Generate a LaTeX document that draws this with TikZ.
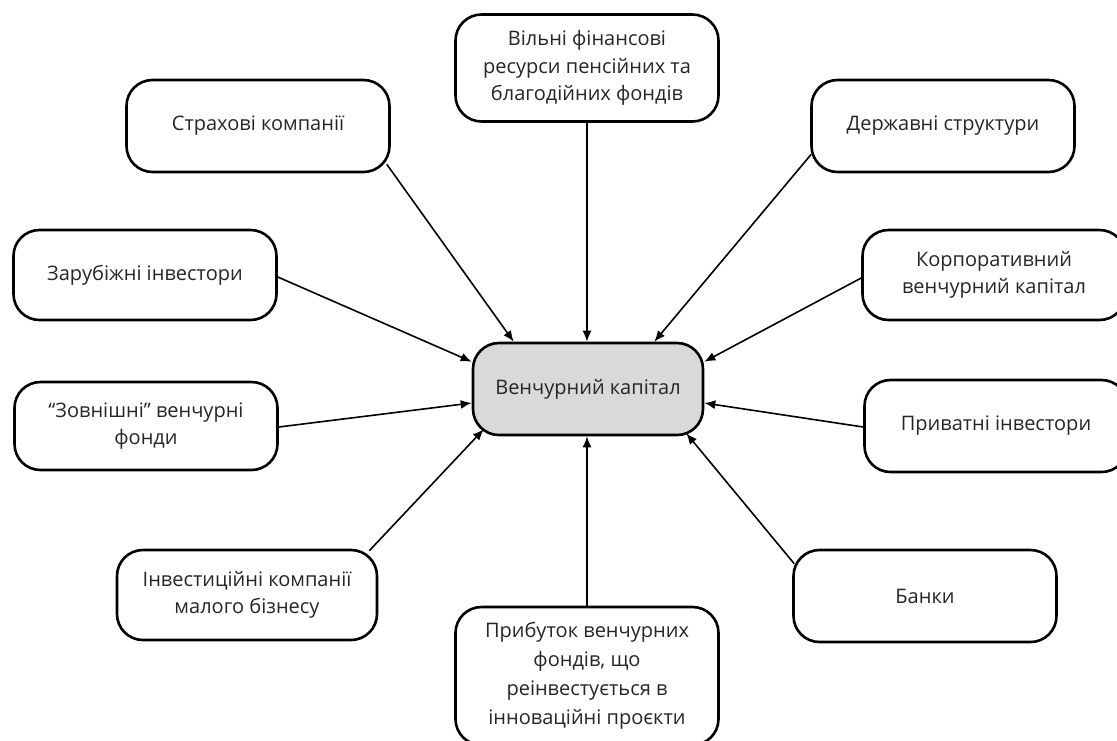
\documentclass[tikz,border=0pt]{standalone}
\usepackage{fontspec}
\setmainfont{Open Sans}
\usetikzlibrary{arrows.meta}
\begin{document}
\begin{tikzpicture}[x=1pt,y=-1pt,
  box/.style={draw=black, line width=2.6pt, rectangle, rounded corners=26pt, fill=white,
    minimum width=263pt, minimum height=92pt, align=center, inner sep=0pt,
    font=\fontsize{20}{27.5}\selectfont, text=black!85},
  conn/.style={line width=1.6pt, -{Latex[length=11pt,width=9pt]}}]
\useasboundingbox (0,0) rectangle (1117,740);
\node[box, fill=black!15, minimum width=230pt] (c) at (588,389) {Венчурний капітал};
\node[box, minimum height=107pt] (t) at (587,68) {Вільні фінансові\\ресурси пенсійних та\\благодійних фондів};
\node[box] (s) at (258,126) {Страхові компанії};
\node[box] (d) at (943,126) {Державні структури};
\node[box, minimum height=90pt] (z) at (145,275) {Зарубіжні інвестори};
\node[box, minimum height=90pt] (k) at (994,275) {Корпоративний\\венчурний капітал};
\node[box, minimum height=88pt] (e) at (146,426) {“Зовнішні” венчурні\\фонди};
\node[box] (p) at (996,426) {Приватні інвестори};
\node[box, minimum width=260pt, minimum height=90pt] (i) at (247,595) {Інвестиційні компанії\\малого бізнесу};
\node[box] (b) at (925,596) {Банки};
\node[box, minimum height=138pt, font=\fontsize{20}{29}\selectfont] (m) at (587,676) {Прибуток венчурних\\фондів, що\\реінвестується в\\інноваційні проєкти};
\draw[conn] (t.south) -- (t.south |- c.north);
\draw[conn] ([xshift=-4pt,yshift=9pt]s.south east) -- ([xshift=42pt]c.north west);
\draw[conn] ([xshift=1pt,yshift=19pt]d.south west) -- ([xshift=-50pt]c.north east);
\draw[conn] ([yshift=-2pt]z.east) -- ([yshift=-20pt]c.north west);
\draw[conn] ([yshift=-3pt]k.west) -- ([yshift=-20pt]c.north east);
\draw[conn] ([yshift=-1pt]e.east) -- ([yshift=-14pt]c.west);
\draw[conn] ([yshift=-1pt]p.west) -- ([yshift=-14pt]c.east);
\draw[conn] ([xshift=-9pt,yshift=-2pt]i.north east) -- ([xshift=12pt,yshift=7pt]c.south west);
\draw[conn] ([xshift=2pt,yshift=-15pt]b.north west) -- ([xshift=-18pt,yshift=3pt]c.south east);
\draw[conn] (m.north) -- (m.north |- c.south);
\end{tikzpicture}
\end{document}
